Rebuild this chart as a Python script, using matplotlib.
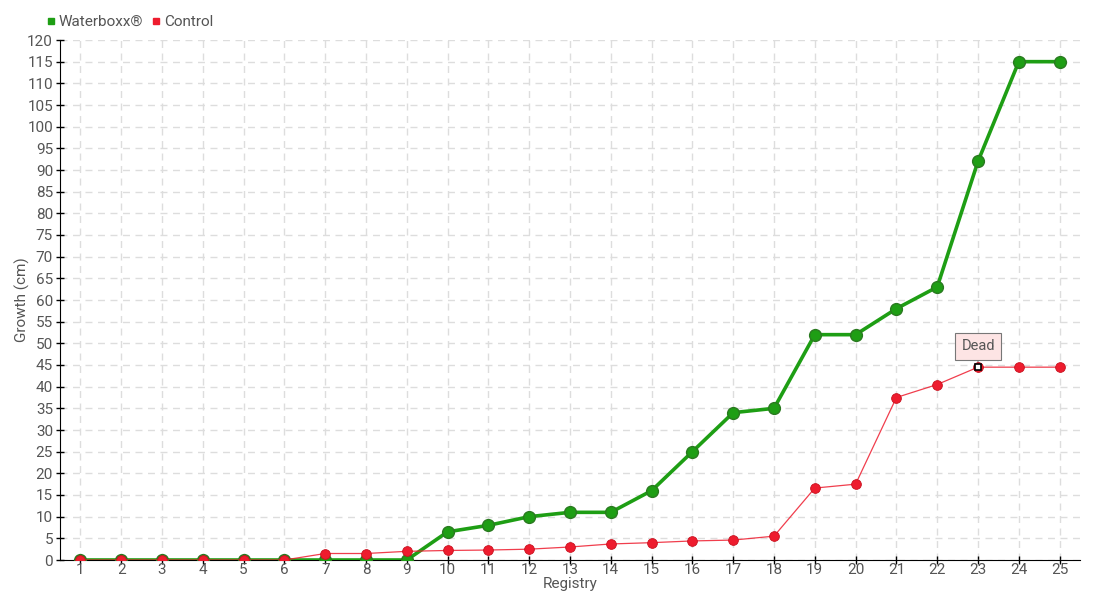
import matplotlib
matplotlib.use('Agg')
from matplotlib import pyplot as plt
from matplotlib.lines import Line2D
import numpy as np

registry = list(range(1, 26))
waterboxx = [0, 0, 0, 0, 0, 0, 0, 0, 0, 6.5, 8, 10, 11, 11, 16, 25, 34, 35,
             52, 52, 58, 63, 92, 115, 115]
control = [0, 0, 0, 0, 0, 0, 1.5, 1.5, 2, 2.2, 2.3, 2.5, 3, 3.7, 4, 4.4, 4.6, 5.5,
           16.6, 17.5, 37.5, 40.5, 44.5, 44.5, 44.5]
dead_idx = 22
yticks = list(range(0, 121, 5))

GREEN = '#1e9e14'
GREEN_DARK = '#2a7a20'
RED = '#ee1c2e'
TEXT = '#555555'

plt.rcParams['font.family'] = ['Roboto', 'DejaVu Sans']

fig = plt.figure(figsize=(11, 6), dpi=100)
ax = fig.add_axes([60 / 1100, 40 / 600, 1020 / 1100, 520 / 600])

ax.plot(registry, waterboxx, color=GREEN, linewidth=2.6, marker='o', markersize=8.5,
        markerfacecolor=GREEN, markeredgecolor=GREEN_DARK, markeredgewidth=1, zorder=3)
ax.plot(registry, control, color=RED, linewidth=0.9, alpha=0.85, zorder=4)
ax.plot(registry, control, linestyle='none', marker='o', markersize=7,
        markerfacecolor=RED, markeredgecolor='#c8101e', markeredgewidth=0.6, zorder=5)
ax.plot(registry[dead_idx], control[dead_idx], marker='s', markersize=4,
        markerfacecolor='white', markeredgecolor='black', markeredgewidth=1.2,
        linestyle='none', zorder=6)

ax.annotate('Dead', xy=(registry[dead_idx], control[dead_idx]), xytext=(0, 15),
            textcoords='offset points', ha='center', va='center', fontsize=10.5, color=TEXT,
            bbox=dict(boxstyle='square,pad=0.45', facecolor='#fde4e4', edgecolor='#777777',
                      linewidth=0.8),
            arrowprops=dict(arrowstyle='-', color='#777777', linewidth=0.8,
                            shrinkA=0, shrinkB=3))

ax.set_xlim(0.5, 25.5)
ax.set_ylim(0, 120)
ax.set_xticks(registry)
ax.set_yticks(yticks)
ax.tick_params(axis='both', colors='black', labelcolor=TEXT, labelsize=11,
               direction='inout', length=6, width=1, pad=2)
ax.tick_params(axis='x', pad=-1)

ax.grid(True, color='#dddddd', linestyle=(0, (5, 4)), linewidth=1)
ax.set_axisbelow(True)
for side in ['top', 'right']:
    ax.spines[side].set_visible(False)
ax.spines['left'].set_color('black')
ax.spines['bottom'].set_color('black')

ax.set_xlabel('Registry', fontsize=11, color=TEXT, labelpad=0)
ax.set_ylabel('Growth (cm)', fontsize=11, color=TEXT)
ax.yaxis.set_label_coords(-30 / 1020, 0.5)

handles = [Line2D([], [], linestyle='none', marker='s', markersize=5, color=GREEN),
           Line2D([], [], linestyle='none', marker='s', markersize=5, color=RED)]
fig.legend(handles, ['Waterboxx\u00ae', 'Control'], loc='center left',
           bbox_to_anchor=(46 / 1100, 1 - 22 / 600), ncol=2, frameon=False,
           handlelength=0.6, handletextpad=0.2, columnspacing=0.6,
           fontsize=11, labelcolor=TEXT, borderaxespad=0, borderpad=0)

fig.savefig('out.png', dpi=100)
